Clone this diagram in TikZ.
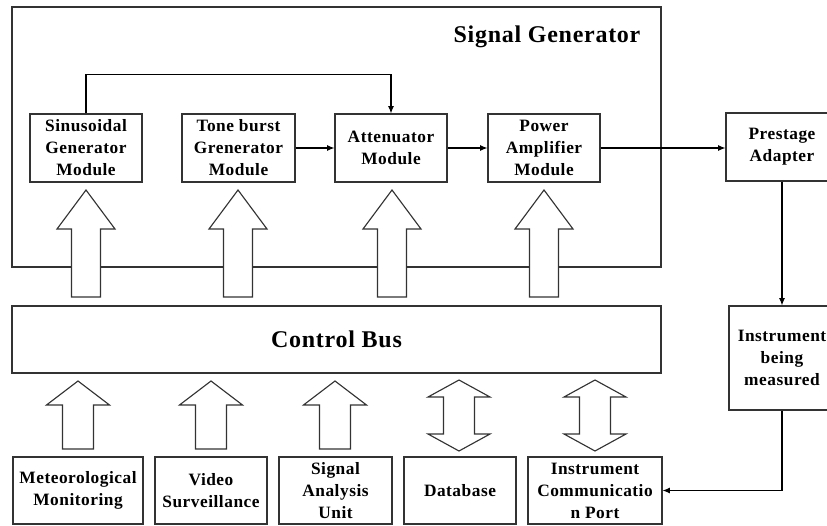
\documentclass[tikz,border=0pt]{standalone}
\usepackage{fontspec}
\setmainfont[LetterSpace=3]{Liberation Serif}
\usetikzlibrary{arrows.meta}
\begin{document}
\begin{tikzpicture}[x=0.75pt,y=-0.75pt,
  ln/.style={draw=black!80,line width=0.85pt},
  box/.style={ln,rectangle,inner sep=0pt,align=center,
    font=\bfseries\fontsize{13}{16.5}\selectfont,minimum height=51pt},
  bigtxt/.style={font=\bfseries\fontsize{18}{22}\selectfont},
  conn/.style={draw=black,line width=0.8pt,-{Latex[length=5.5pt,width=4.5pt]}},
  blk/.style={ln,fill=white,line join=miter}
]
\useasboundingbox (0,0) rectangle (827,525);
% outer boxes
\node[box,minimum width=486.75pt,minimum height=195pt] (sg) at (336.5,137) {};
\node[bigtxt] (title) at (547,37) {Signal Generator};
\node[box,bigtxt,minimum width=486.75pt,minimum height=50.25pt] (cb) at (336.5,339.5) {Control Bus};
% modules
\node[box,minimum width=84pt] (sin) at (86,148) {Sinusoidal\\Generator\\Module};
\node[box,minimum width=84.75pt] (tone) at (238.5,148) {Tone burst\\Grenerator\\Module};
\node[box,minimum width=84pt] (att) at (391,148) {Attenuator\\Module};
\node[box,minimum width=84pt] (pa) at (544,148) {Power\\Amplifier\\Module};
\node[box,minimum width=84pt] (pre) at (782,147) {Prestage\\Adapter};
\node[box,minimum width=79.5pt,minimum height=78pt] (inst) at (782,358) {Instrument\\being\\measured};
% bottom boxes
\node[box,minimum width=97.5pt,minimum height=50.25pt] (met) at (78,490.5) {Meteorological\\Monitoring};
\node[box,minimum width=84pt,minimum height=50.25pt] (vid) at (211,490.5) {Video\\Surveillance};
\node[box,minimum width=84.75pt,minimum height=50.25pt] (sau) at (335.5,490.5) {Signal\\Analysis\\Unit};
\node[box,minimum width=84pt,minimum height=50.25pt] (db) at (460,490.5) {Database};
\node[box,minimum width=100.5pt,minimum height=50.25pt] (icp) at (595,490.5) {Instrument\\Communicatio\\n Port};
% block arrows into modules
\foreach \cx in {86,238,392,544}{
  \draw[blk] (\cx,190) -- (\cx+29,229) -- (\cx+14.5,229) -- (\cx+14.5,297)
    -- (\cx-14.5,297) -- (\cx-14.5,229) -- (\cx-29,229) -- cycle;
}
% block arrows into control bus
\foreach \cx in {78,211,335}{
  \draw[blk] (\cx,381) -- (\cx+31.5,405) -- (\cx+15.5,405) -- (\cx+15.5,449)
    -- (\cx-15.5,449) -- (\cx-15.5,405) -- (\cx-31.5,405) -- cycle;
}
% double block arrows
\foreach \cx in {459,595}{
  \draw[blk] (\cx,380) -- (\cx+31,397) -- (\cx+15.5,397) -- (\cx+15.5,434)
    -- (\cx+31,434) -- (\cx,451) -- (\cx-31,434) -- (\cx-15.5,434)
    -- (\cx-15.5,397) -- (\cx-31,397) -- cycle;
}
% connectors
\draw[conn] (sin.north) -- ++(0,-39) -| (att.north);
\draw[conn] (tone.east) -- (att.west);
\draw[conn] (att.east) -- (pa.west);
\draw[conn] (pa.east) -- (pre.west |- pa.east);
\draw[conn] (pre.south) -- (inst.north);
\draw[conn] (inst.south) |- (icp.east);
\end{tikzpicture}
\end{document}
